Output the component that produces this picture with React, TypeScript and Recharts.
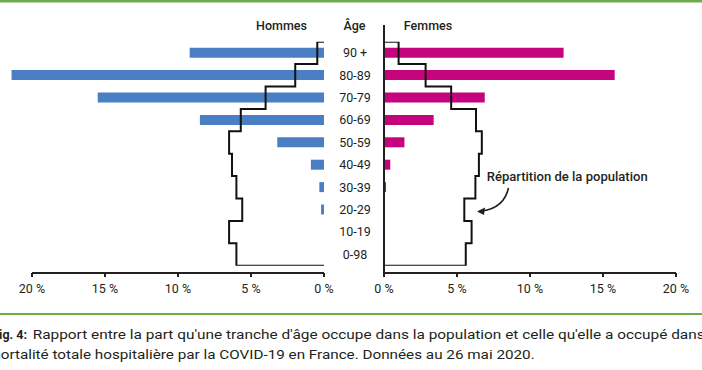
import React from 'react';
import { ComposedChart, Bar, Line, XAxis, YAxis, ReferenceLine } from 'recharts';

const ages = ['90 +', '80-89', '70-79', '60-69', '50-59', '40-49', '30-39', '20-29', '10-19', '0-98'];
const deathsMen = [9.2, 21.4, 15.5, 8.5, 3.2, 0.9, 0.32, 0.2, 0, 0];
const deathsWomen = [12.3, 15.8, 6.9, 3.4, 1.4, 0.43, 0.14, 0, 0, 0];
const popMen = [0.46, 1.97, 4.0, 5.7, 6.5, 6.3, 6.0, 5.6, 6.5, 6.0];
const popWomen = [1.0, 2.85, 4.6, 6.3, 6.7, 6.5, 6.26, 5.5, 6.0, 5.6];
const xTicks = [0, 5, 10, 15, 20];

const FONT = 'Roboto, "Noto Sans", sans-serif';
const INK = '#231f20';
const BLUE = '#4a7fc3';
const MAGENTA = '#c5037d';
const GREEN = '#6fab4a';

const barRows = (vals: number[]) => ages.map((a, i) => ({ age: a, d: vals[i] }));
const stepRows = (pop: number[]) => {
  const pts: { b: number; v: number }[] = [{ b: 0, v: 0 }];
  pop.forEach((v, i) => {
    pts.push({ b: i, v });
    pts.push({ b: i + 1, v });
  });
  pts.push({ b: pop.length, v: 0 });
  return pts;
};

const PAD = { top: 16.7, bottom: 7.3 };
const AXIS_BOTTOM = 10 + 7.3 / 22.4;

const AgeTick = (props: any) => {
  const { x, y, payload } = props;
  return (
    <text x={x - 29} y={y} dy="0.35em" textAnchor="middle" fontFamily={FONT} fontSize={12.5} fill={INK}>
      {payload.value}
    </text>
  );
};

function Panel({ side }: { side: 'left' | 'right' }) {
  const isLeft = side === 'left';
  const bars = barRows(isLeft ? deathsMen : deathsWomen);
  const steps = stepRows(isLeft ? popMen : popWomen);
  const margin = isLeft
    ? { top: 25, right: 36, bottom: 7, left: 2.8 }
    : { top: 25, right: 26, bottom: 7, left: 24 };
  return (
    <ComposedChart
      width={isLeft ? 360 : 372}
      height={310}
      layout="vertical"
      data={bars}
      margin={margin}
      barCategoryGap={0}
    >
      <XAxis
        type="number"
        domain={isLeft ? [0, 22] : [0, 20]}
        ticks={xTicks}
        interval={0}
        reversed={isLeft}
        allowDataOverflow
        height={30}
        tickSize={4}
        tickMargin={7}
        tickFormatter={(v: number) => `${v} %`}
        axisLine={false}
        tickLine={{ stroke: INK, strokeWidth: 2 }}
        tick={{ fill: INK, fontSize: 12.5, fontFamily: FONT }}
      />
      <YAxis
        yAxisId="cat"
        type="category"
        dataKey="age"
        orientation={isLeft ? 'right' : 'left'}
        width={isLeft ? 0 : 30}
        padding={PAD}
        axisLine={{ stroke: INK, strokeWidth: 2 }}
        tickLine={false}
        tickSize={0}
        tickMargin={0}
        tick={isLeft ? false : AgeTick}
        interval={0}
      />
      <YAxis
        yAxisId="num"
        type="number"
        dataKey="b"
        domain={[0, 10]}
        allowDataOverflow
        hide
        padding={PAD}
      />
      <ReferenceLine
        yAxisId="num"
        segment={[
          { x: 0, y: AXIS_BOTTOM },
          { x: 20, y: AXIS_BOTTOM },
        ]}
        ifOverflow="visible"
        stroke={INK}
        strokeWidth={2}
      />
      <Bar
        yAxisId="cat"
        dataKey="d"
        fill={isLeft ? BLUE : MAGENTA}
        barSize={10}
        isAnimationActive={false}
      />
      <Line
        yAxisId="num"
        data={steps}
        dataKey="v"
        type="linear"
        stroke="#111"
        strokeWidth={2}
        strokeLinejoin="miter"
        dot={false}
        activeDot={false}
        isAnimationActive={false}
      />
    </ComposedChart>
  );
}

export default function App() {
  return (
    <div style={{ position: 'absolute', left: 0, top: 0, width: 702, height: 370, background: '#fff', overflow: 'hidden' }}>
      <div style={{ position: 'absolute', left: 0, top: 0 }}>
        <Panel side="left" />
      </div>
      <div style={{ position: 'absolute', left: 330, top: 0 }}>
        <Panel side="right" />
      </div>
      <svg
        width={702}
        height={370}
        style={{ position: 'absolute', left: 0, top: 0, pointerEvents: 'none' }}
        fontFamily={FONT}
      >
        <rect x={0} y={0} width={702} height={2.5} fill={GREEN} />
        <rect x={0} y={313} width={702} height={2} fill={GREEN} />
        <text x={281.5} y={30} textAnchor="middle" fontSize={12.5} fontWeight={500} fill={INK}>Hommes</text>
        <text x={354.5} y={30} textAnchor="middle" fontSize={12.5} fontWeight={500} fill={INK}>Âge</text>
        <text x={428} y={30} textAnchor="middle" fontSize={12.5} fontWeight={500} fill={INK}>Femmes</text>
        <text x={486.7} y={181} fontSize={12.5} fontWeight={500} fill={INK} textLength={161} lengthAdjust="spacingAndGlyphs">
          Répartition de la population
        </text>
        <path d="M 508.5 188 Q 504 208 482 211" fill="none" stroke={INK} strokeWidth={1.6} />
        <polygon points="477,211.5 485,207.5 484,215" fill={INK} />
        <text x={27} y={339} textAnchor="end" fontSize={12.5} fontWeight={700} fill={INK}>Fig. 4:</text>
        <text x={32.7} y={339} fontSize={12.5} fill={INK} textLength={672} lengthAdjust="spacingAndGlyphs">
          Rapport entre la part qu'une tranche d'âge occupe dans la population et celle qu'elle a occupé dans
        </text>
        <text x={0.7} y={359} textAnchor="end" fontSize={12.5} fill={INK}>m</text>
        <text x={0.7} y={359} fontSize={12.5} fill={INK} textLength={534} lengthAdjust="spacingAndGlyphs">
          ortalité totale hospitalière par la COVID-19 en France. Données au 26 mai 2020.
        </text>
      </svg>
    </div>
  );
}
